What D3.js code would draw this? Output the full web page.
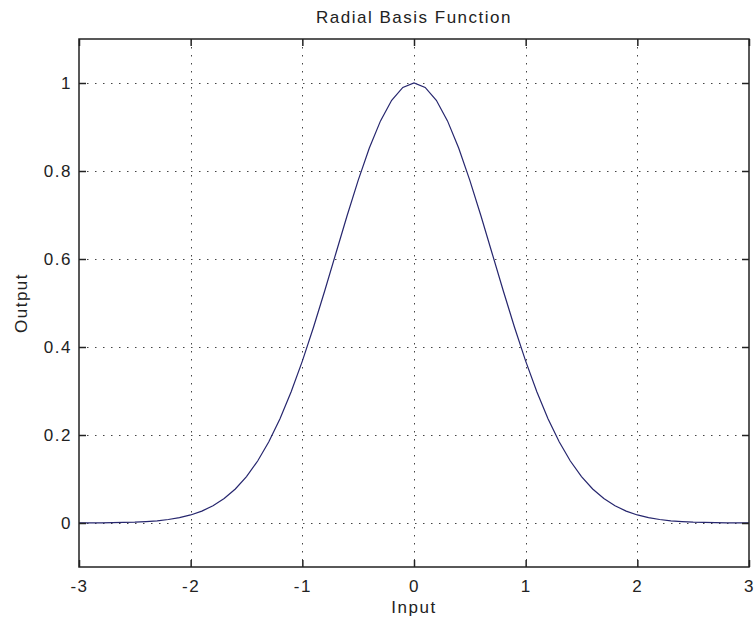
<!DOCTYPE html>
<html><head><meta charset="utf-8">
<script src="https://cdn.jsdelivr.net/npm/d3@7"></script>
<style>
html,body{margin:0;padding:0;background:#fff;}
text{font-family:"Liberation Sans",Arial,sans-serif;fill:#222;}
</style></head>
<body>
<svg id="c" width="754" height="624"></svg>
<script>
const xValues = [-3.0,-2.9,-2.8,-2.7,-2.6,-2.5,-2.4,-2.3,-2.2,-2.1,-2.0,-1.9,-1.8,-1.7,-1.6,-1.5,-1.4,-1.3,-1.2,-1.1,-1.0,-0.9,-0.8,-0.7,-0.6,-0.5,-0.4,-0.3,-0.2,-0.1,0.0,0.1,0.2,0.3,0.4,0.5,0.6,0.7,0.8,0.9,1.0,1.1,1.2,1.3,1.4,1.5,1.6,1.7,1.8,1.9,2.0,2.1,2.2,2.3,2.4,2.5,2.6,2.7,2.8,2.9,3.0];
const yValues = [0.0001,0.0002,0.0004,0.0007,0.0012,0.0019,0.0032,0.0050,0.0079,0.0122,0.0183,0.0271,0.0392,0.0556,0.0773,0.1054,0.1409,0.1845,0.2369,0.2982,0.3679,0.4449,0.5273,0.6126,0.6977,0.7788,0.8521,0.9139,0.9608,0.9900,1.0000,0.9900,0.9608,0.9139,0.8521,0.7788,0.6977,0.6126,0.5273,0.4449,0.3679,0.2982,0.2369,0.1845,0.1409,0.1054,0.0773,0.0556,0.0392,0.0271,0.0183,0.0122,0.0079,0.0050,0.0032,0.0019,0.0012,0.0007,0.0004,0.0002,0.0001];
const xTicks = [-3,-2,-1,0,1,2,3];
const yTicks = [0,0.2,0.4,0.6,0.8,1];
const title = "Radial Basis Function";
const xLabel = "Input";
const yLabel = "Output";

const L = 79, R = 749, T = 39, B = 567;
const svg = d3.select("#c");
const x = d3.scaleLinear().domain([-3,3]).range([L,R]);
const y = d3.scaleLinear().domain([-0.1,1.1]).range([B,T]);
const fs = 17, ls = "1.5px";

// grid
const grid = svg.append("g").attr("stroke","#444").attr("stroke-width",1).attr("stroke-dasharray","1.5,6.5");
grid.selectAll(".gx").data(xTicks.filter(d=>d>-3&&d<3)).join("line")
  .attr("x1",d=>Math.round(x(d))+0.5).attr("x2",d=>Math.round(x(d))+0.5).attr("y1",T).attr("y2",B);
grid.selectAll(".gy").data(yTicks).join("line")
  .attr("y1",d=>Math.round(y(d))+0.5).attr("y2",d=>Math.round(y(d))+0.5).attr("x1",L).attr("x2",R);

// line
const line = d3.line().x((d,i)=>x(xValues[i])).y(d=>y(d));
svg.append("path").datum(yValues).attr("d",line).attr("fill","none")
  .attr("stroke","#26266e").attr("stroke-width",1.2);

// axes
const tl = 7;
const ax = d3.axisBottom(x).tickValues(xTicks).tickSize(-tl).tickPadding(13).tickFormat(d=>String(d));
svg.append("g").attr("transform",`translate(0,${B})`).call(ax);
const ay = d3.axisLeft(y).tickValues(yTicks).tickSize(-tl).tickPadding(7).tickFormat(d=>String(d));
svg.append("g").attr("transform",`translate(${L},0)`).call(ay);
svg.append("g").attr("transform",`translate(0,${T})`).call(d3.axisTop(x).tickValues(xTicks).tickSize(-tl).tickFormat(""));
svg.append("g").attr("transform",`translate(${R},0)`).call(d3.axisRight(y).tickValues(yTicks).tickSize(-tl).tickFormat(""));
svg.selectAll(".domain").remove();
svg.selectAll(".tick line").attr("stroke","#222").attr("stroke-width",1.5);
svg.selectAll(".tick text").attr("font-size",fs).attr("letter-spacing",ls)
  .attr("font-family","'Liberation Sans',Arial,sans-serif").attr("fill","#222");
svg.append("rect").attr("x",L).attr("y",T).attr("width",R-L).attr("height",B-T)
  .attr("fill","none").attr("stroke","#222").attr("stroke-width",1.5);

// labels
svg.append("text").attr("x",(L+R)/2).attr("y",23).attr("text-anchor","middle").attr("font-size",fs).attr("letter-spacing",ls).text(title);
svg.append("text").attr("x",(L+R)/2).attr("y",613).attr("text-anchor","middle").attr("font-size",fs).attr("letter-spacing",ls).text(xLabel);
svg.append("text").attr("transform",`translate(27,${(T+B)/2}) rotate(-90)`).attr("text-anchor","middle").attr("font-size",fs).attr("letter-spacing",ls).text(yLabel);
</script>
</body></html>
